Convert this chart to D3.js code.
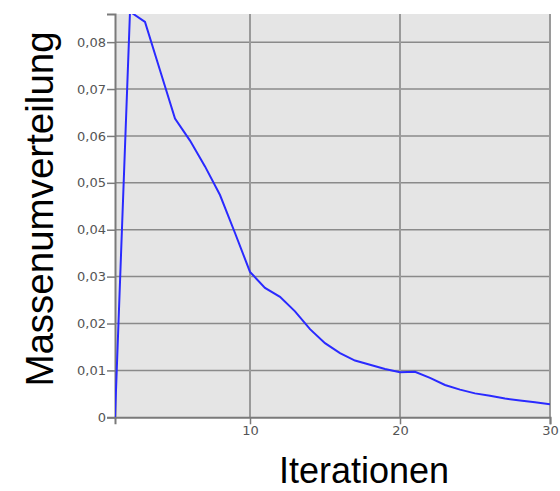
<!DOCTYPE html>
<html>
<head>
<meta charset="utf-8">
<script src="https://cdn.jsdelivr.net/npm/d3@7"></script>
<style>
  body { margin: 0; background: #fff; }
  svg { display: block; }
</style>
</head>
<body>
<script>
// Werte
var v_Iter   = [1, 2, 3, 4, 5, 6, 7, 8, 9, 10, 11, 12, 13, 14, 15, 16, 17, 18, 19, 20, 21, 22, 23, 24, 25, 26, 27, 28, 29, 30];
var v_Masse  = [0, 0.0865, 0.0843, 0.074, 0.0637, 0.059, 0.0535, 0.0474, 0.0393, 0.031, 0.0276, 0.0257, 0.0226, 0.0188, 0.0158, 0.0137, 0.0121, 0.0112, 0.0103, 0.0096, 0.0097, 0.0084, 0.0069, 0.0059, 0.0051, 0.0046, 0.0040, 0.0036, 0.0032, 0.0028];
var v_XTicks = [10, 20, 30];
var v_YTicks = [0, 0.01, 0.02, 0.03, 0.04, 0.05, 0.06, 0.07, 0.08];

var v_Width  = 560;
var v_Height = 491;
var v_Left   = 115, v_Right = 550, v_Top = 14, v_Bottom = 417.3;

var v_SVG = d3.select("body").append("svg")
    .attr("width",  v_Width)
    .attr("height", v_Height);

var v_X = d3.scaleLinear().domain([1, 30]).range([v_Left, v_Right]);
var v_Y = d3.scaleLinear().domain([0, 0.086]).range([v_Bottom, v_Top]);

// Hintergrund
v_SVG.append("rect")
    .attr("x", v_Left).attr("y", v_Top)
    .attr("width", v_Right - v_Left).attr("height", v_Bottom - v_Top)
    .attr("fill", "#e5e5e5");

v_SVG.append("clipPath").attr("id", "plotClip")
    .append("rect")
    .attr("x", v_Left).attr("y", v_Top)
    .attr("width", v_Right - v_Left).attr("height", v_Bottom - v_Top);

// horizontale Gitterlinien
v_SVG.append("g").selectAll("line").data(v_YTicks.filter(function (d) { return d > 0; }))
    .join("line")
    .attr("x1", v_Left).attr("x2", v_Right)
    .attr("y1", function (d) { return v_Y(d); })
    .attr("y2", function (d) { return v_Y(d); })
    .attr("stroke", "#8a8a8a")
    .attr("stroke-width", 1.5);

// vertikale Gitterlinien
v_SVG.append("g").selectAll("line").data(v_XTicks)
    .join("line")
    .attr("x1", function (d) { return v_X(d); })
    .attr("x2", function (d) { return v_X(d); })
    .attr("y1", v_Top).attr("y2", v_Bottom)
    .attr("stroke", "#9a9a9a")
    .attr("stroke-width", 2);

// Achsen
var v_YAxis = d3.axisLeft(v_Y)
    .tickValues(v_YTicks)
    .tickSize(8)
    .tickFormat(function (d) { return d === 0 ? "0" : d3.format(".2f")(d).replace(".", ","); });

var v_XAxis = d3.axisBottom(v_X)
    .tickValues(v_XTicks)
    .tickSize(7)
    .tickFormat(d3.format("d"));

var v_GY = v_SVG.append("g")
    .attr("transform", "translate(" + v_Left + ",0)")
    .call(v_YAxis);

var v_GX = v_SVG.append("g")
    .attr("transform", "translate(0," + v_Bottom + ")")
    .call(v_XAxis);

[v_GY, v_GX].forEach(function (g) {
    g.select(".domain").attr("stroke", "#7a7a7a").attr("stroke-width", 2);
    g.selectAll(".tick line").attr("stroke", "#7a7a7a").attr("stroke-width", 1.5);
    g.selectAll(".tick text")
        .attr("fill", "#555")
        .attr("font-family", "DejaVu Sans")
        .attr("font-size", 13);
});
v_GY.selectAll(".tick text").attr("x", -9);
v_GX.selectAll(".tick text").attr("y", 8);

// Linie
var v_Line = d3.line()
    .x(function (d, i) { return v_X(v_Iter[i]); })
    .y(function (d) { return v_Y(d); });

v_SVG.append("path")
    .datum(v_Masse)
    .attr("clip-path", "url(#plotClip)")
    .attr("d", v_Line)
    .attr("fill", "none")
    .attr("stroke", "#2a2aff")
    .attr("stroke-width", 2);

// Achsentitel
v_SVG.append("text")
    .attr("transform", "translate(53,209) rotate(-90)")
    .attr("text-anchor", "middle")
    .attr("font-family", "Liberation Sans")
    .attr("font-size", 38.5)
    .attr("fill", "#000")
    .text("Massenumverteilung");

v_SVG.append("text")
    .attr("x", 364).attr("y", 483)
    .attr("text-anchor", "middle")
    .attr("font-family", "Liberation Sans")
    .attr("font-size", 36)
    .attr("fill", "#000")
    .text("Iterationen");
</script>
</body>
</html>
